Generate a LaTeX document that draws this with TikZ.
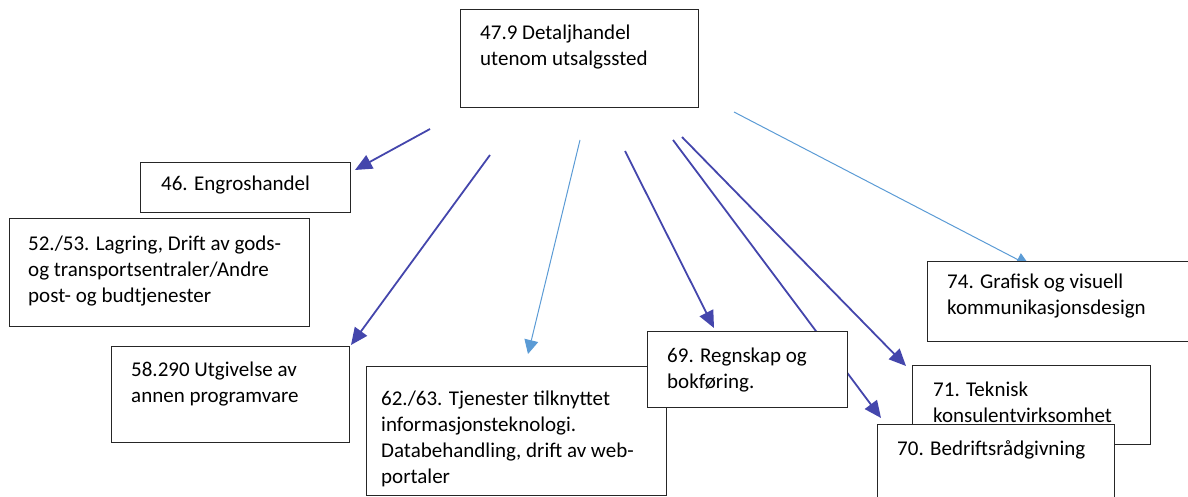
\documentclass[tikz,border=0pt]{standalone}
\usepackage{fontspec}
\setmainfont{Carlito}
\usetikzlibrary{arrows.meta}
\definecolor{darkarrow}{RGB}{68,70,172}
\definecolor{lightarrow}{RGB}{91,155,213}
\tikzset{
  box/.style={draw=black!85, line width=1.2pt, fill=white, anchor=north west, inner sep=0pt},
  txt/.style={anchor=base west, align=left, inner sep=0pt, font=\fontsize{21}{26}\selectfont},
  darkline/.style={draw=darkarrow, line width=1.8pt, -{Triangle[length=17pt,width=15pt]}},
  lightline/.style={draw=lightarrow, line width=1pt, -{Triangle[length=14pt,width=14pt]}},
}
\begin{document}
\begin{tikzpicture}[x=1pt,y=-1pt]
\useasboundingbox (0,0) rectangle (1188,497);
% connector end points
\coordinate (s46) at (430,129);  \coordinate (e46) at (355,170);
\coordinate (s58) at (490,155);  \coordinate (e58) at (351,345);
\coordinate (s62) at (580,140);  \coordinate (e62) at (528,354);
\coordinate (s69) at (625,151);  \coordinate (e69) at (714,328);
\coordinate (s70) at (673,140);  \coordinate (e70) at (881,418);
\coordinate (s71) at (682,137);  \coordinate (e71) at (906,366);
\coordinate (s74) at (734,112);  \coordinate (e74) at (1030,266);
% connectors
\draw[darkline] (s46) -- (e46);
\draw[darkline] (s58) -- (e58);
\draw[lightline] (s62) -- (e62);
\draw[darkline] (s69) -- (e69);
\draw[darkline] (s70) -- (e70);
\draw[darkline] (s71) -- (e71);
\draw[lightline] (s74) -- (e74);
% boxes and texts (text anchored at the baseline of its last line)
\node[box, minimum width=238pt, minimum height=98pt] (top) at (460,9) {};
\node[txt] (ttop) at (480,66) {47.9 Detaljhandel\\utenom utsalgssted};
\node[box, minimum width=210pt, minimum height=50pt] (b46) at (140,162) {};
\node[txt] (t46) at (161,190) {46. Engroshandel};
\node[box, minimum width=300pt, minimum height=108pt] (b52) at (9,218) {};
\node[txt] (t52) at (28,302) {52./53. Lagring, Drift av gods-\\og transportsentraler/Andre\\post- og budtjenester};
\node[box, minimum width=238pt, minimum height=96pt] (b58) at (111,346) {};
\node[txt] (t58) at (131,402) {58.290 Utgivelse av\\annen programvare};
\node[box, minimum width=300pt, minimum height=129pt] (b62) at (366,366) {};
\node[txt] (t62) at (381,483) {62./63. Tjenester tilknyttet\\informasjonsteknologi.\\Databehandling, drift av web-\\portaler};
\node[box, minimum width=200pt, minimum height=76pt] (b69) at (647,331) {};
\node[txt] (t69) at (667,388) {69. Regnskap og\\bokføring.};
\node[box, minimum width=270pt, minimum height=80pt] (b74) at (927,261) {};
\node[txt] (t74) at (947,314) {74. Grafisk og visuell\\kommunikasjonsdesign};
\node[box, minimum width=238pt, minimum height=79pt] (b71) at (912,365) {};
\node[txt] (t71) at (933,422) {71. Teknisk\\konsulentvirksomhet};
\node[box, minimum width=237pt, minimum height=90pt] (b70) at (877,424) {};
\node[txt] (t70) at (897,455) {70. Bedriftsrådgivning};
\end{tikzpicture}
\end{document}
